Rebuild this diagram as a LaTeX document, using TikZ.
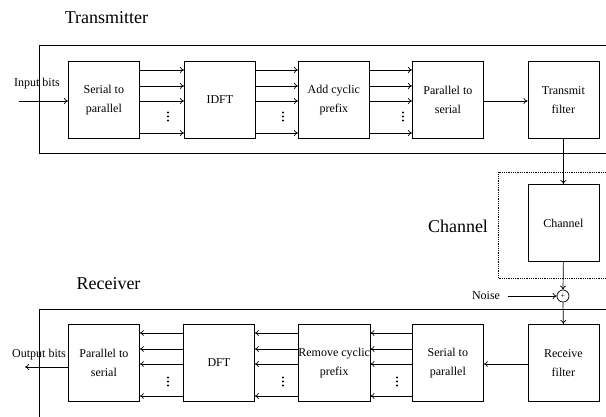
\documentclass[tikz,border=0pt]{standalone}
\usepackage{fontspec}
\setmainfont{Liberation Serif}
\usetikzlibrary{arrows.meta}
\newcommand\dotcolumn[2]{\foreach \k in {-4,0,4} \fill (#1,#2+\k) circle (1.1pt);}
\begin{document}
\begin{tikzpicture}[x=1pt,y=-1pt,
 blk/.style={draw,line width=0.8pt,minimum width=71pt,minimum height=77pt,inner sep=0pt,align=center,anchor=north west,font=\fontsize{12}{19}\selectfont},
 lbl/.style={font=\fontsize{12}{14}\selectfont,inner sep=0pt},
 ttl/.style={font=\fontsize{18}{20}\selectfont,inner sep=0pt},
 arr/.style={-{To[length=4pt,width=6pt]},line width=0.7pt},
 frame/.style={line width=1pt}]
\useasboundingbox (0,0) rectangle (606,416);
\clip (0,0) rectangle (606,416);
% frames
\draw[frame] (620,45) -- (39,45) -- (39,153) -- (620,153);
\draw[frame] (620,309) -- (39,309) -- (39,430);
\draw[densely dotted,line width=0.8pt] (620,172) -- (498,172) -- (498,278) -- (620,278);
% titles
\node[ttl] (tx) at (106.5,17.5) {Transmitter};
\node[ttl] (rx) at (108.5,284) {Receiver};
\node[ttl] (chl) at (458,226) {Channel};
% transmitter
\node[blk] (s2p) at (68,61) {Serial to\\parallel};
\node[blk] (idft) at (184,61) {IDFT};
\node[blk] (acp) at (298,61) {Add cyclic\\prefix};
\node[blk] (p2s) at (412,61) {Parallel to\\serial};
\node[blk] (txf) at (527.5,61) {Transmit\\filter};
\foreach \a/\b in {s2p/idft,idft/acp,acp/p2s}
  \foreach \d in {9,25,40,72}
    \draw[arr] ([yshift=-\d pt]\a.north east) -- ([yshift=-\d pt]\b.north west);
\draw[arr] ([yshift=-40pt]p2s.north east) -- ([yshift=-40pt]txf.north west);
\coordinate (in) at (19,101);
\draw[arr] (in) -- (in -| s2p.west);
\node[lbl] (inl) at (37,84) {Input bits};
\dotcolumn{168}{116.5}
\dotcolumn{283}{116.5}
\dotcolumn{403}{116.5}
% channel
\node[blk] (chan) at (527.5,184) {Channel};
\node[draw,circle,minimum size=12pt,inner sep=0pt,line width=0.7pt,font=\fontsize{8}{8}\selectfont] (add) at (563,296) {+};
\draw[arr] (txf.south) -- (chan.north);
\draw[arr] (chan.south) -- (add.north);
\node[lbl] (noise) at (486,296) {Noise};
\coordinate (nstart) at (508,296);
\draw[arr] (nstart) -- (add.west);
% receiver
\node[blk] (rp2s) at (68,324) {Parallel to\\serial};
\node[blk] (dft) at (183,324) {DFT};
\node[blk] (rcp) at (298,324) {Remove cyclic\\prefix};
\node[blk] (rs2p) at (412,324) {Serial to\\parallel};
\node[blk] (rxf) at (527.5,324) {Receive\\filter};
\draw[arr] (add.south) -- (rxf.north);
\foreach \a/\b in {dft/rp2s,rcp/dft,rs2p/rcp}
  \foreach \d in {9,25,40,72}
    \draw[arr] ([yshift=-\d pt]\a.north west) -- ([yshift=-\d pt]\b.north east);
\draw[arr] ([yshift=-40pt]rxf.north west) -- ([yshift=-40pt]rs2p.north east);
\coordinate (out) at (25,367);
\draw[arr] (out -| rp2s.west) -- (out);
\node[lbl] (outl) at (39,355) {Output bits};
\dotcolumn{168}{381.5}
\dotcolumn{283}{381.5}
\dotcolumn{397}{381.5}
\end{tikzpicture}
\end{document}
